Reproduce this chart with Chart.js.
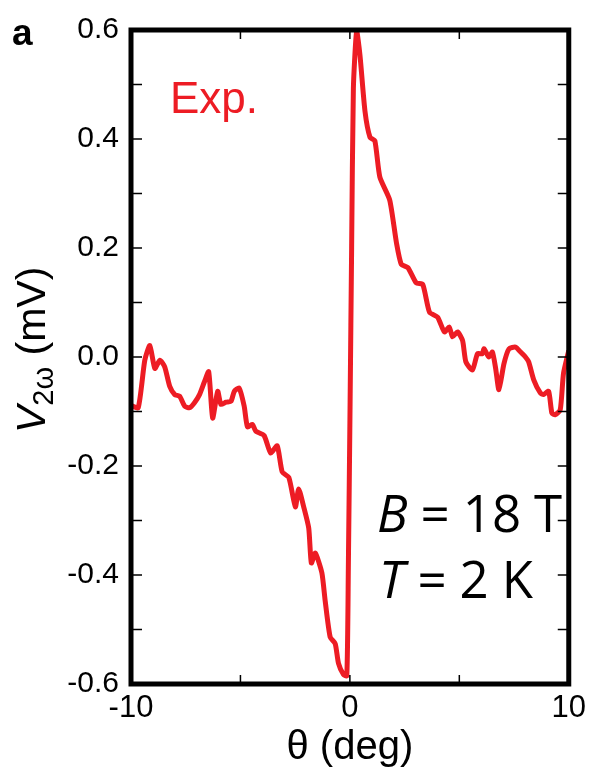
<!DOCTYPE html>
<html>
<head>
<meta charset="utf-8">
<script src="https://cdn.jsdelivr.net/npm/chart.js@4"></script>
<style>
  html, body { margin: 0; padding: 0; background: #fff; }
  #wrap { width: 592px; height: 778px; }
</style>
</head>
<body>
<div id="wrap"><canvas id="chart" width="592" height="778"></canvas></div>
<script>
// theta (deg) and V_2w (mV)
const theta = [
    -10.0, -9.67, -9.37, -9.14, -8.91, -8.68, -8.46, -8.23, -8.00, -7.78,
    -7.55, -7.32, -7.10, -6.87, -6.64, -6.45, -6.27, -6.04, -5.89, -5.66,
    -5.43, -5.28, -5.06, -4.83, -4.68, -4.45, -4.30, -3.92, -3.62, -3.32,
    -3.09, -2.79, -2.49, -2.34, -2.11, -1.88, -1.76, -1.58, -1.28, -1.13,
    -0.90, -0.67, -0.52, -0.29, -0.14, -0.07, 0.01, 0.08, 0.16, 0.31,
    0.46, 0.69, 0.92, 1.14, 1.37, 1.82, 2.13, 2.35, 2.65, 3.03,
    3.33, 3.64, 4.01, 4.32, 4.54, 4.69, 4.92, 5.15, 5.30, 5.60,
    5.83, 6.05, 6.13, 6.35, 6.51, 6.66, 6.81, 7.04, 7.27, 7.57,
    7.80, 8.02, 8.17, 8.40, 8.70, 8.85, 9.08, 9.23, 9.38, 9.61,
    9.76, 10.0
];
const v2w = [
    -0.089, -0.093, -0.006, 0.021, -0.021, -0.006, -0.018, -0.054, -0.069, -0.072,
    -0.090, -0.093, -0.084, -0.069, -0.045, -0.027, -0.112, -0.063, -0.087, -0.083,
    -0.081, -0.063, -0.057, -0.090, -0.128, -0.124, -0.136, -0.144, -0.176, -0.163,
    -0.211, -0.221, -0.275, -0.242, -0.275, -0.314, -0.378, -0.360, -0.396, -0.447,
    -0.514, -0.526, -0.562, -0.583, -0.585, -0.387, -0.084, 0.200, 0.493, 0.598,
    0.554, 0.451, 0.403, 0.397, 0.330, 0.288, 0.209, 0.170, 0.164, 0.136,
    0.133, 0.082, 0.073, 0.046, 0.055, 0.037, 0.046, 0.030, -0.009, -0.024,
    0.006, 0.006, 0.015, 0.000, 0.009, -0.021, -0.060, -0.012, 0.015, 0.018,
    0.009, 0.000, -0.009, -0.042, -0.066, -0.069, -0.063, -0.103, -0.106, -0.097,
    -0.030, 0.012
];
const xLabelled = [-10, 0, 10];
const yLabelled = [-0.6, -0.4, -0.2, 0, 0.2, 0.4, 0.6];

const RED = '#ed1c24';
const SANS = '"Liberation Sans", Arial, sans-serif';

// frame, inward ticks and annotation text
const framePlugin = {
    id: 'frame',
    afterDraw(chart) {
        const { ctx, chartArea: a, scales } = chart;
        ctx.save();
        ctx.strokeStyle = '#000';
        ctx.lineWidth = 1.5;
        scales.y.ticks.forEach(t => {
            const py = scales.y.getPixelForValue(t.value);
            ctx.beginPath();
            ctx.moveTo(a.left, py); ctx.lineTo(a.left + 11, py);
            ctx.moveTo(a.right, py); ctx.lineTo(a.right - 11, py);
            ctx.stroke();
        });
        scales.x.ticks.forEach(t => {
            const px = scales.x.getPixelForValue(t.value);
            ctx.beginPath();
            ctx.moveTo(px, a.bottom); ctx.lineTo(px, a.bottom - 9);
            ctx.moveTo(px, a.top); ctx.lineTo(px, a.top + 9);
            ctx.stroke();
        });
        ctx.lineWidth = 5;
        ctx.strokeRect(a.left, a.top, a.right - a.left, a.bottom - a.top);

        // panel letter
        ctx.fillStyle = '#000';
        ctx.textBaseline = 'alphabetic';
        ctx.font = 'bold 37px ' + SANS;
        ctx.fillText('a', 12, 45);

        // legend text
        ctx.fillStyle = RED;
        ctx.font = '44px ' + SANS;
        ctx.fillText('Exp.', 170, 113);

        // B and T annotation, drawn piece by piece
        ctx.fillStyle = '#000';
        const drawEq = (parts, x, y) => {
            parts.forEach(([txt, italic]) => {
                ctx.font = (italic ? 'italic ' : '') + '51px "Open Sans", sans-serif';
                ctx.fillText(txt, x, y);
                x += ctx.measureText(txt).width + 13;
            });
        };
        drawEq([['B', true], ['=', false], ['18', false], ['T', false]], 377, 532);
        drawEq([['T', true], ['=', false], ['2', false], ['K', false]], 379, 598);

        // y title with subscript
        ctx.save();
        ctx.translate(45, 433);
        ctx.rotate(-Math.PI / 2);
        ctx.font = 'italic 41px ' + SANS;
        ctx.fillText('V', 0, 0);
        let x = ctx.measureText('V').width;
        ctx.font = '29px ' + SANS;
        ctx.fillText('2\u03c9', x, 8);
        x += ctx.measureText('2\u03c9').width;
        ctx.font = '41px ' + SANS;
        ctx.fillText(' (mV)', x, 0);
        ctx.restore();
        ctx.restore();
    }
};

new Chart(document.getElementById('chart'), {
    type: 'line',
    data: {
        datasets: [{
            data: theta.map((t, i) => ({ x: t, y: v2w[i] })),
            borderColor: RED,
            borderWidth: 5,
            pointRadius: 0,
            tension: 0.2,
            fill: false
        }]
    },
    options: {
        responsive: false,
        animation: false,
        layout: { padding: { top: 23, right: 20, left: 0, bottom: 0 } },
        plugins: { legend: { display: false }, tooltip: { enabled: false } },
        scales: {
            x: {
                type: 'linear',
                min: -10, max: 10,
                grid: { display: false, drawTicks: false },
                border: { display: false },
                afterFit: s => { s.height = 94; },
                ticks: {
                    stepSize: 5,
                    padding: 6,
                    color: '#000',
                    font: { size: 31, family: SANS },
                    maxRotation: 0,
                    callback: v => xLabelled.includes(v) ? String(v) : ''
                },
                title: {
                    display: true,
                    text: '\u03b8 (deg)',
                    color: '#000',
                    font: { size: 40, family: SANS },
                    padding: { top: 0, bottom: 6 }
                }
            },
            y: {
                min: -0.6, max: 0.6,
                grid: { display: false, drawTicks: false },
                border: { display: false },
                afterFit: s => { s.width = 131; },
                ticks: {
                    stepSize: 0.1,
                    padding: 12,
                    color: '#000',
                    font: { size: 30, family: SANS },
                    callback: v => yLabelled.some(l => Math.abs(l - v) < 1e-6)
                        ? (Math.abs(v) < 1e-6 ? '0.0' : v.toFixed(1)) : ''
                }
            }
        }
    },
    plugins: [framePlugin]
});
</script>
</body>
</html>
